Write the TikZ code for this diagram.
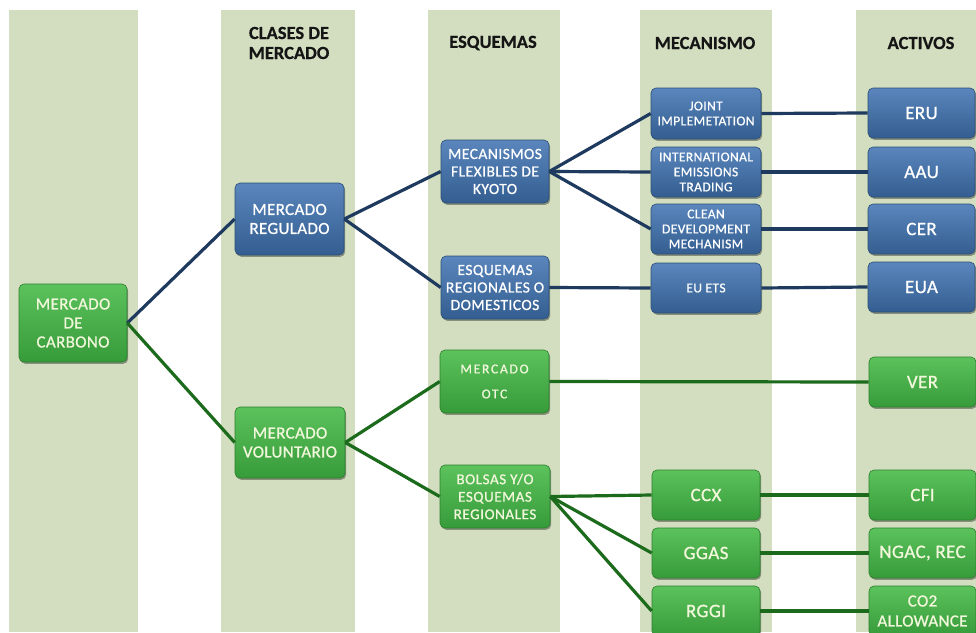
\documentclass[tikz,border=0pt]{standalone}
\usepackage{fontspec}
\setmainfont{Carlito}
\usetikzlibrary{shadows}
\definecolor{colbg}{HTML}{D2DEBF}
\definecolor{bluetop}{HTML}{5A86BD}
\definecolor{bluebot}{HTML}{345E90}
\definecolor{blueedge}{HTML}{2B4E78}
\definecolor{greentop}{HTML}{5CC25C}
\definecolor{greenbot}{HTML}{369B39}
\definecolor{greenedge}{HTML}{2C7F2E}
\definecolor{blueline}{HTML}{1F3A5F}
\definecolor{greenline}{HTML}{1C6B1C}
\definecolor{gtext}{HTML}{F2F7DC}
\definecolor{headtext}{HTML}{151515}
\begin{document}
\begin{tikzpicture}[x=1pt,y=-1pt,
  basebox/.style={rounded corners=5pt, line width=0.6pt, align=center, inner sep=0pt,
    drop shadow={shadow xshift=1.2pt, shadow yshift=-1.8pt, opacity=0.35, fill=black}},
  bluebox/.style={basebox, draw=blueedge, top color=bluetop, bottom color=bluebot, text=white},
  greenbox/.style={basebox, draw=greenedge, top color=greentop, bottom color=greenbot, text=gtext},
  sz/.style n args={2}{minimum width=#1pt, minimum height=#2pt},
  bigtxt/.style={font=\fontsize{17}{19}\selectfont\addfontfeature{LetterSpace=2,FakeBold=0.8}},
  midtxt/.style={font=\fontsize{15.5}{17.5}\selectfont\addfontfeature{LetterSpace=3,FakeBold=0.8}},
  smalltxt/.style={font=\fontsize{13.5}{15}\selectfont\addfontfeature{LetterSpace=3,FakeBold=0.8}},
  otctxt/.style={font=\fontsize{13.5}{25}\selectfont\addfontfeature{LetterSpace=13,FakeBold=0.8}},
  bolsatxt/.style={font=\fontsize{15}{17.5}\selectfont\addfontfeature{LetterSpace=4,FakeBold=0.8}},
  assettxt/.style={font=\fontsize{19}{21}\selectfont\addfontfeature{LetterSpace=2,FakeBold=0.8}},
  co2txt/.style={font=\fontsize{17}{20}\selectfont\addfontfeature{LetterSpace=2,FakeBold=0.8}},
  header/.style={font=\fontsize{18.5}{20}\selectfont\bfseries\addfontfeature{FakeBold=0.6}, text=headtext, align=center},
  bconn/.style={draw=blueline, line width=3.2pt},
  gconn/.style={draw=greenline, line width=3.2pt}
]
\useasboundingbox (0,0) rectangle (976,632);
\fill[white] (0,0) rectangle (976,632);
\foreach \a/\b in {9/138,221/355,428/560,640/772,856/976}
  \fill[colbg] (\a,10) rectangle (\b,632);

% headers
\node[header] (h1) at (289,43) {CLASES DE\\MERCADO};
\node[header] (h2) at (493,43) {ESQUEMAS};
\node[header] (h3) at (705,43) {MECANISMO};
\node[header] (h4) at (921,43) {ACTIVOS};

% level 1
\node[greenbox, sz={108}{78}, bigtxt] (carbono) at (73,323) {MERCADO\\DE\\CARBONO};
% level 2
\node[bluebox, sz={109}{72}, bigtxt] (regulado) at (289.5,219) {MERCADO\\REGULADO};
\node[greenbox, sz={110}{71}, bigtxt] (voluntario) at (290,442.5) {MERCADO\\VOLUNTARIO};
% level 3
\node[bluebox, sz={108}{63}, midtxt] (kyoto) at (495,171.5) {MECANISMOS\\FLEXIBLES DE\\KYOTO};
\node[bluebox, sz={108}{63}, midtxt] (esqreg) at (495,287.5) {ESQUEMAS\\REGIONALES O\\DOMESTICOS};
\node[greenbox, sz={109}{63}, otctxt] (otc) at (494.5,381.5) {MERCADO\\OTC};
\node[greenbox, sz={110}{63}, bolsatxt] (bolsas) at (495,496.5) {BOLSAS Y/O\\ESQUEMAS\\REGIONALES};
% level 4
\node[bluebox, sz={110}{51}, smalltxt] (ji) at (706,113.5) {JOINT\\IMPLEMETATION};
\node[bluebox, sz={110}{50}, smalltxt] (iet) at (706,172) {INTERNATIONAL\\EMISSIONS\\TRADING};
\node[bluebox, sz={110}{50}, smalltxt] (cdm) at (706,229) {CLEAN\\DEVELOPMENT\\MECHANISM};
\node[bluebox, sz={110}{50}, smalltxt] (euets) at (706,288) {EU ETS};
\node[greenbox, sz={108}{50}, assettxt] (ccx) at (706,495) {CCX};
\node[greenbox, sz={108}{50}, assettxt] (ggas) at (706,553) {GGAS};
\node[greenbox, sz={108}{50}, assettxt] (rggi) at (706,611) {RGGI};
% level 5
\node[bluebox, sz={107}{50}, assettxt] (eru) at (921.5,113) {ERU};
\node[bluebox, sz={107}{50}, assettxt] (aau) at (921.5,172) {AAU};
\node[bluebox, sz={107}{50}, assettxt] (cer) at (921.5,229) {CER};
\node[bluebox, sz={107}{50}, assettxt] (eua) at (921.5,287) {EUA};
\node[greenbox, sz={107}{50}, assettxt] (ver) at (922.5,382) {VER};
\node[greenbox, sz={107}{50}, assettxt] (cfi) at (922.5,495) {CFI};
\node[greenbox, sz={107}{50}, assettxt] (ngac) at (922.5,553) {NGAC, REC};
\node[greenbox, sz={107}{50}, co2txt] (co2) at (922.5,611) {CO2\\ALLOWANCE};

% connectors
\draw[bconn] (carbono.east) -- (regulado.west);
\draw[gconn] (carbono.east) -- (voluntario.west);
\draw[bconn] (regulado.east) -- (kyoto.west);
\draw[bconn] (regulado.east) -- (esqreg.west);
\draw[bconn] (kyoto.east) -- (ji.west);
\draw[bconn] (kyoto.east) -- (iet.west);
\draw[bconn] (kyoto.east) -- (cdm.west);
\draw[bconn] (esqreg.east) -- (euets.west);
\draw[bconn] (ji.east) -- (eru.west);
\draw[bconn] (iet.east) -- (aau.west);
\draw[bconn] (cdm.east) -- (cer.west);
\draw[bconn] (euets.east) -- (eua.west);
\draw[gconn] (voluntario.east) -- (otc.west);
\draw[gconn] (voluntario.east) -- (bolsas.west);
\draw[gconn] (otc.east) -- (ver.west);
\draw[gconn] (bolsas.east) -- (ccx.west);
\draw[gconn] (bolsas.east) -- (ggas.west);
\draw[gconn] (bolsas.east) -- (rggi.west);
\draw[gconn] (ccx.east) -- (cfi.west);
\draw[gconn] (ggas.east) -- (ngac.west);
\draw[gconn] (rggi.east) -- (co2.west);
\end{tikzpicture}
\end{document}
